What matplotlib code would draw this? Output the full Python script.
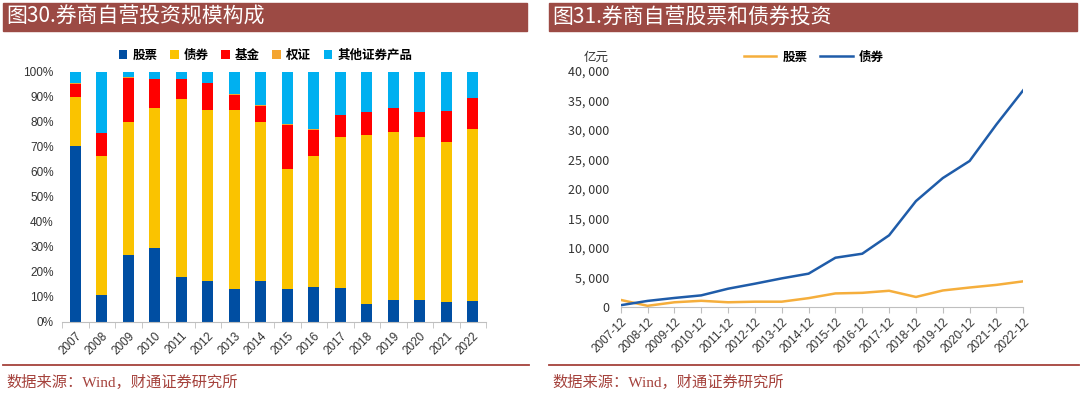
import numpy as np
import matplotlib
matplotlib.use("Agg")
import matplotlib.pyplot as plt
from matplotlib.patches import Rectangle
from matplotlib.lines import Line2D

plt.rcParams['font.family'] = ['Noto Sans CJK SC', 'DejaVu Sans']

# left chart: composition (%)
years = ['2007', '2008', '2009', '2010', '2011', '2012', '2013', '2014',
         '2015', '2016', '2017', '2018', '2019', '2020', '2021', '2022']
stock_pct = [70.3, 10.7, 26.7, 29.5, 18.0, 16.4, 12.9, 16.4,
             13.2, 13.9, 13.6, 6.9, 8.5, 8.8, 8.0, 8.3]
bond_pct = [19.4, 55.6, 53.0, 56.0, 70.9, 68.1, 71.6, 63.3,
            48.0, 52.4, 60.4, 67.8, 67.4, 65.2, 64.0, 68.6]
fund_pct = [5.3, 9.2, 17.9, 11.5, 8.1, 10.9, 6.3, 6.7,
            17.6, 10.5, 8.6, 9.1, 9.5, 9.8, 12.2, 12.6]
warrant_pct = [0.4, 0.1, 0.1, 0.1, 0.1, 0.1, 0.1, 0.1,
               0.1, 0.1, 0.1, 0.1, 0.1, 0.1, 0.1, 0.1]
other_pct = [100 - a - b - c - d for a, b, c, d in
             zip(stock_pct, bond_pct, fund_pct, warrant_pct)]
left_labels = ['股票', '债券', '基金', '权证', '其他证券产品']
left_colors = ['#004EA2', '#FAC300', '#FF0000', '#F4A531', '#00B0F0']

# right chart: amounts (亿元)
periods = [y + '-12' for y in years]
stock_amt = [1150, 150, 750, 1000, 750, 850, 850, 1450,
             2250, 2350, 2700, 1650, 2750, 3250, 3700, 4300]
bond_amt = [250, 980, 1480, 1920, 3050, 3900, 4800, 5600,
            8300, 8980, 12100, 17900, 21800, 24700, 30900, 36700]

W, H = 1080, 394
fig = plt.figure(figsize=(W / 100, H / 100), dpi=100)

def px_axes(x0, y0, x1, y1):
    return fig.add_axes([x0 / W, 1 - y1 / H, (x1 - x0) / W, (y1 - y0) / H])

header_col = '#9C4A44'
src_col = '#A5423C'
for x0, x1, title in [(3, 527, '图30.券商自营投资规模构成'),
                      (549, 1077, '图31.券商自营股票和债券投资')]:
    fig.patches.append(Rectangle((x0 / W, 1 - 31 / H), (x1 - x0) / W, 28 / H,
                                 transform=fig.transFigure, color=header_col))
    fig.text((x0 + 3) / W, 1 - 17 / H, title, color='white', fontsize=15,
             va='center', ha='left')
    fig.lines.append(Line2D([x0 / W, (x1 + 2) / W], [1 - 365 / H] * 2,
                            transform=fig.transFigure, color=src_col, lw=1.3))
    fig.text((x0 + 3) / W, 1 - 382 / H, '数据来源：Wind，财通证券研究所',
             color=src_col, fontsize=11, va='center', ha='left',
             family=['Liberation Serif', 'Noto Sans CJK SC'])

# ---- left stacked bars
ax1 = px_axes(62, 71.7, 486, 321.7)
x = np.arange(len(years))
bottom = np.zeros(len(years))
for vals, lab, col in zip([stock_pct, bond_pct, fund_pct, warrant_pct, other_pct],
                          left_labels, left_colors):
    v = np.array(vals) / 100
    ax1.bar(x, v, 0.4, bottom=bottom, color=col, label=lab)
    bottom += v
ax1.set_xlim(-0.5, 15.5)
ax1.set_ylim(0, 1)
ax1.set_yticks(np.arange(0, 1.01, 0.1))
ax1.set_yticklabels([f'{int(round(t * 100))}%' for t in np.arange(0, 1.01, 0.1)],
                    family=['Liberation Sans', 'Noto Sans CJK SC'], fontsize=8.5, color='#333333')
ax1.tick_params(axis='y', length=0, pad=6)
ax1.set_xticks(x)
ax1.set_xticklabels(years, rotation=45, ha='right', rotation_mode='anchor',
                    family=['Liberation Sans', 'Noto Sans CJK SC'], fontsize=8.5, color='#333333')
ax1.tick_params(axis='x', length=0, pad=6)
ax1.set_xticks(np.arange(-0.5, 16, 1), minor=True)
ax1.tick_params(axis='x', which='minor', length=4, color='#BFBFBF', direction='out')
for s in ['top', 'right', 'left']:
    ax1.spines[s].set_visible(False)
ax1.spines['bottom'].set_color('#BFBFBF')
ax1.legend(loc='center', bbox_to_anchor=(0.48, 1.065), ncol=5, frameon=False,
           handlelength=0.7, handleheight=0.7, handletextpad=0.4, columnspacing=1.0,
           prop={'weight': 'bold', 'size': 9})

# ---- right lines
ax2 = px_axes(620.7, 70.7, 1023.3, 306.7)
xi = np.arange(len(periods))
ax2.plot(xi, stock_amt, color='#F5AE3C', lw=1.8, label='股票')
ax2.plot(xi, bond_amt, color='#1F5CA9', lw=1.8, label='债券')
ax2.set_xlim(0, 15)
ax2.set_ylim(0, 40000)
yt = np.arange(0, 40001, 5000)
ax2.set_yticks(yt)
ax2.set_yticklabels([f'{t:,}'.replace(',', ', ') if t else '0' for t in yt],
                    fontsize=9, color='#333333')
ax2.tick_params(axis='y', length=0, pad=8)
ax2.set_xticks(xi)
ax2.set_xticklabels(periods, rotation=45, ha='right', rotation_mode='anchor',
                    family=['Liberation Sans', 'Noto Sans CJK SC'], fontsize=8.5, color='#333333')
ax2.tick_params(axis='x', length=4, color='#BFBFBF', pad=3)
for s in ['top', 'right', 'left']:
    ax2.spines[s].set_visible(False)
ax2.spines['bottom'].set_color('#BFBFBF')
ax2.text(-0.06, 1.055, '亿元', transform=ax2.transAxes, fontsize=9, color='#333333',
         ha='center', va='center')
ax2.legend(loc='center', bbox_to_anchor=(0.48, 1.058), ncol=2, frameon=False,
           handlelength=2.6, handletextpad=0.5, columnspacing=1.0,
           prop={'weight': 'bold', 'size': 9})

fig.savefig('out.png', dpi=100)
